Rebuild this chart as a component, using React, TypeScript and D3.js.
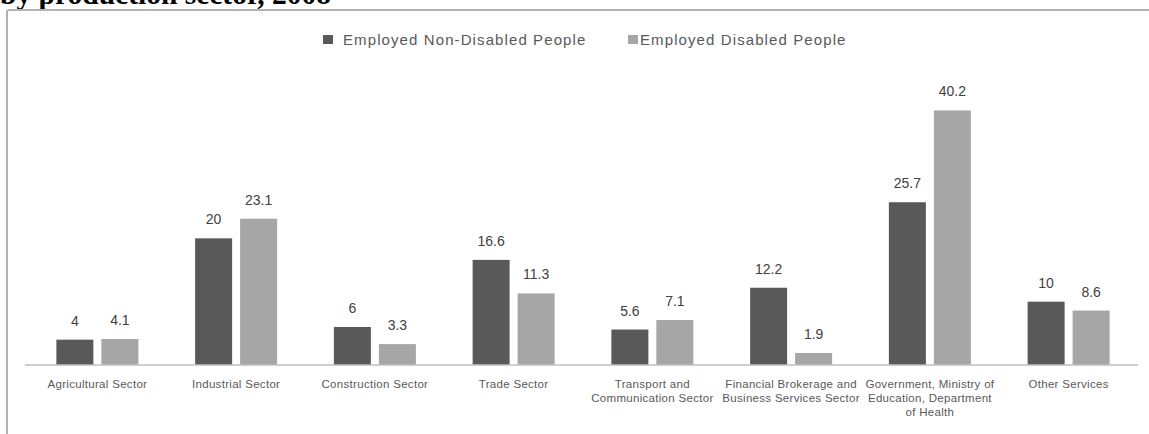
import React from "react";
import * as d3 from "d3";

const categories: string[][] = [
  ["Agricultural Sector"],
  ["Industrial Sector"],
  ["Construction Sector"],
  ["Trade Sector"],
  ["Transport and", "Communication Sector"],
  ["Financial Brokerage and", "Business Services Sector"],
  ["Government, Ministry of", "Education, Department", "of Health"],
  ["Other Services"],
];
const seriesNames = ["Employed Non-Disabled People", "Employed Disabled People"];
const nonDisabled = [4, 20, 6, 16.6, 5.6, 12.2, 25.7, 10];
const disabled = [4.1, 23.1, 3.3, 11.3, 7.1, 1.9, 40.2, 8.6];
const titleText = "by production sector, 2008";

const W = 1149;
const H = 434;
const colors = ["#595959", "#a6a6a6"];
const labelFont = "'Liberation Sans', Arial, sans-serif";

export default function App() {
  const x = d3
    .scaleBand<number>()
    .domain(d3.range(categories.length))
    .range([28, 1138]);
  const y = d3.scaleLinear().domain([0, 45]).range([365, 80]);
  const barW = 37;
  const gap = 8;
  const series = [nonDisabled, disabled];

  return (
    <svg
      width={W}
      height={H}
      style={{ position: "absolute", left: 0, top: 0, display: "block", background: "#fff" }}
    >
      <text
        x={0}
        y={4}
        fontFamily="'Liberation Serif', 'Times New Roman', serif"
        fontWeight="bold"
        fontSize={29.5}
        fill="#000"
      >
        {titleText}
      </text>
      {/* chart frame */}
      <rect x={7} y={10} width={W} height={H} fill="#fff" stroke="#b3b3b3" strokeWidth={2} rx={2} />
      {/* legend */}
      <g fontFamily={labelFont} fontSize={15} fill="#595959" letterSpacing={1.1}>
        <rect x={323} y={35} width={10} height={9} fill={colors[0]} />
        <text x={343} y={45}>{seriesNames[0]}</text>
        <rect x={628} y={35} width={10} height={9} fill={colors[1]} />
        <text x={640} y={45}>{seriesNames[1]}</text>
      </g>
      {/* bars */}
      {series.map((vals, si) =>
        vals.map((v, i) => {
          const cx = (x(i) as number) + x.bandwidth() / 2;
          const bx = si === 0 ? cx - gap / 2 - barW : cx + gap / 2;
          return (
            <g key={`${si}-${i}`}>
              <rect x={bx} y={y(v)} width={barW} height={y(0) - y(v)} fill={colors[si]} />
              <text
                x={bx + barW / 2}
                y={y(v) - 14}
                textAnchor="middle"
                fontFamily={labelFont}
                fontSize={14}
                fill="#404040"
              >
                {String(v)}
              </text>
            </g>
          );
        })
      )}
      {/* axis line */}
      <line x1={25} x2={1138} y1={y(0)} y2={y(0)} stroke="#bfbfbf" strokeWidth={1.5} />
      {/* category labels */}
      {categories.map((lines, i) => {
        const cx = (x(i) as number) + x.bandwidth() / 2;
        return (
          <text
            key={i}
            textAnchor="middle"
            fontFamily={labelFont}
            fontSize={11.5}
            letterSpacing={0.3}
            fill="#595959"
          >
            {lines.map((l, li) => (
              <tspan key={li} x={cx} y={388 + li * 14}>
                {l}
              </tspan>
            ))}
          </text>
        );
      })}
    </svg>
  );
}
